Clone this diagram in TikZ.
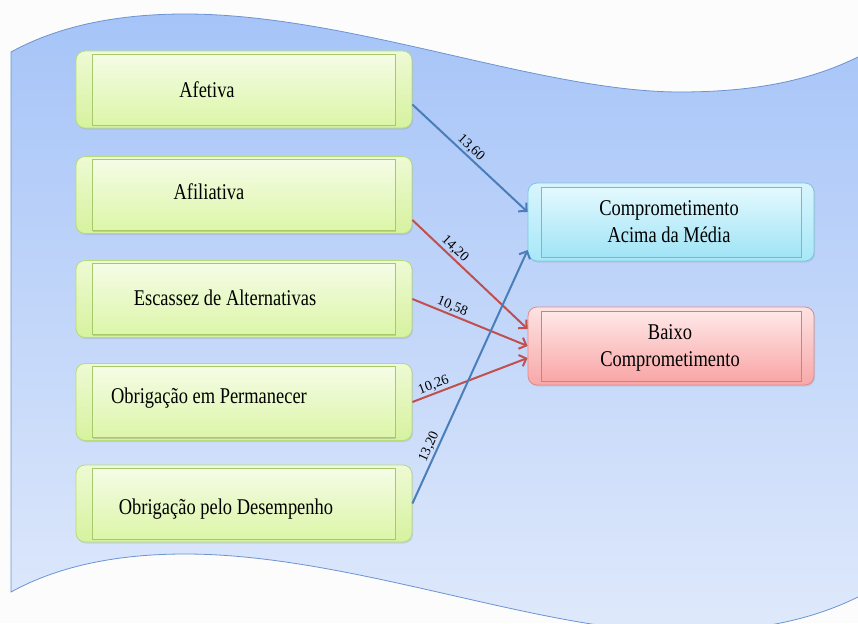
\documentclass[tikz,border=0pt]{standalone}
\usepackage{fontspec}
\setmainfont{Liberation Serif}
\usetikzlibrary{arrows.meta}
\usetikzlibrary{shadows}
\definecolor{wavetop}{HTML}{A6C4F8}
\definecolor{wavebot}{HTML}{DFE9FB}
\definecolor{waveline}{HTML}{6C94D0}
\definecolor{grline}{HTML}{B4DC78}
\definecolor{grtop}{HTML}{EEFAD4}
\definecolor{grbot}{HTML}{D6F29E}
\definecolor{grinline}{HTML}{A6C96C}
\definecolor{grintop}{HTML}{F5FCE6}
\definecolor{grinbot}{HTML}{DCF6A8}
\definecolor{blline}{HTML}{78C8E0}
\definecolor{bltop}{HTML}{D8F5FD}
\definecolor{blbot}{HTML}{A8E8F8}
\definecolor{blinline}{HTML}{6CBCD8}
\definecolor{blintop}{HTML}{E4F9FE}
\definecolor{blinbot}{HTML}{A0E4F6}
\definecolor{rdline}{HTML}{DE8A8A}
\definecolor{rdtop}{HTML}{FDE2E2}
\definecolor{rdbot}{HTML}{F8A8A8}
\definecolor{rdinline}{HTML}{D57C7C}
\definecolor{rdintop}{HTML}{FFE8E8}
\definecolor{rdinbot}{HTML}{F9A6A6}
\definecolor{arrblue}{HTML}{4A7EBB}
\definecolor{arrred}{HTML}{C0504D}
\tikzset{
  outerbox/.style={rounded corners=9pt, line width=.8pt, minimum width=336pt, minimum height=77pt,
    drop shadow={shadow xshift=1pt, shadow yshift=-1.5pt, opacity=.2}},
  innerbox/.style={line width=.8pt, minimum width=303pt, minimum height=71pt,
    drop shadow={shadow xshift=.8pt, shadow yshift=-1pt, opacity=.3}},
  greenbox/.style={outerbox, draw=grline, top color=grtop, bottom color=grbot},
  greenin/.style={innerbox, draw=grinline, top color=grintop, bottom color=grinbot},
  bluebox/.style={outerbox, minimum width=286pt, minimum height=78pt, draw=blline, top color=bltop, bottom color=blbot},
  bluein/.style={innerbox, minimum width=260pt, minimum height=70pt, draw=blinline, top color=blintop, bottom color=blinbot},
  redbox/.style={outerbox, minimum width=286pt, minimum height=78pt, draw=rdline, top color=rdtop, bottom color=rdbot},
  redin/.style={innerbox, minimum width=260pt, minimum height=70pt, draw=rdinline, top color=rdintop, bottom color=rdinbot},
  boxtext/.style={font=\fontsize{22.5}{27}\selectfont, align=center, inner sep=0pt, xscale=.82, transform shape},
  valtext/.style={font=\fontsize{14}{16}\selectfont, sloped, above, inner sep=1.5pt},
  bluearr/.style={draw=arrblue, line width=2pt, -{Straight Barb[length=6pt,width=12pt]}},
  redarr/.style={draw=arrred, line width=2pt, -{Straight Barb[length=6pt,width=12pt]}},
}

\begin{document}
\begin{tikzpicture}[x=1pt, y=-1pt]
    \useasboundingbox (0,0) rectangle (858,623);
    \fill[white!99!black] (0,0) rectangle (858,623);
    \clip (0,0) rectangle (858,623);
    \draw[waveline, line width=.8pt, top color=wavetop, bottom color=wavebot]
      (11,52) .. controls (60,25) and (120,14) .. (185,14)
      .. controls (350,14) and (540,92) .. (680,92)
      .. controls (770,92) and (830,75) .. (880,45) -- (900,45) -- (900,580) -- (880,585)
      .. controls (830,615) and (770,632) .. (680,632)
      .. controls (540,632) and (350,554) .. (185,554)
      .. controls (120,554) and (60,565) .. (11,592) -- cycle;
    \foreach \n/\y/\dx/\dy/\txt in {afe/89.5/-37/0.5/Afetiva, afi/195/-35/-3/Afiliativa,
      esc/299/-19/-1/Escassez de Alternativas, per/402/-35/-4/Obrigação em Permanecer,
      des/503.5/-18/6/Obrigação pelo Desempenho} {
      \node[greenbox] (\n) at (244,\y) {};
      \node[greenin] at (\n.center) {};
      \node[boxtext] at ([shift={(\dx,\dy)}]\n.center) {\txt};
    }
    \node[bluebox] (cam) at (671,222) {};
    \node[bluein] at (cam.center) {};
    \node[boxtext] at ([shift={(-2,0)}]cam.center) {Comprometimento\\Acima da Média};
    \node[redbox] (bco) at (671,346) {};
    \node[redin] at (bco.center) {};
    \node[boxtext] at ([shift={(-1,2)}]bco.center) {Baixo\\Comprometimento};
    \draw[bluearr] ([yshift=-15pt]afe.east) -- node[valtext, pos=.46]{13,60} ([yshift=10pt]cam.west);
    \draw[redarr] ([yshift=-25pt]afi.east) -- node[valtext, pos=.32]{14,20} ([yshift=17pt]bco.west);
    \draw[redarr] ([yshift=0pt]esc.east) -- node[valtext, pos=.32]{10,58} (bco.west);
    \draw[redarr] (per.east) -- node[valtext, pos=.21]{10,26} ([yshift=-12pt]bco.west);
    \draw[bluearr] (des.east) -- node[valtext, pos=.21]{13,20} ([yshift=-28pt]cam.west);
\end{tikzpicture}
\end{document}
